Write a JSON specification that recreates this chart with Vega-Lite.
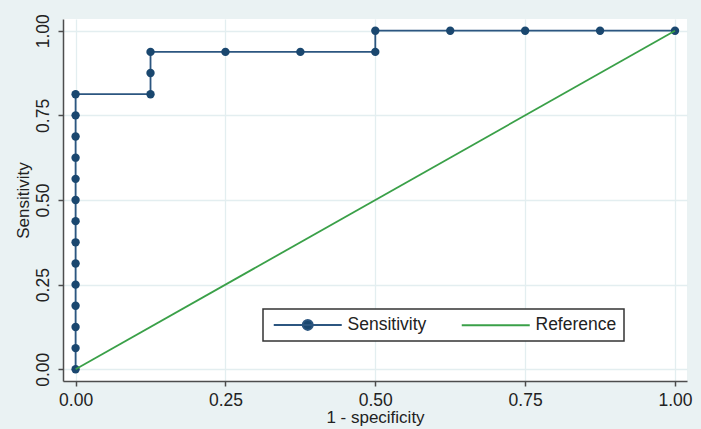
{
  "$schema": "https://vega.github.io/schema/vega-lite/v6.json",
  "width": 624,
  "height": 362,
  "autosize": {"type": "none"},
  "padding": {"left": 63, "top": 19, "right": 14, "bottom": 48},
  "background": "#EAF2F3",
  "config": {
    "font": "Liberation Sans",
    "view": {"fill": "white", "stroke": null},
    "axis": {
      "domainColor": "#4d4d4d", "domainWidth": 1.5,
      "tickColor": "#4d4d4d", "tickWidth": 1.5, "tickSize": 5,
      "gridColor": "#e3eef0", "gridWidth": 1.3,
      "labelFont": "Liberation Sans", "labelFontSize": 17.5, "labelColor": "#222222",
      "titleFont": "Liberation Sans", "titleFontSize": 17, "titleFontWeight": "normal", "titleColor": "#222222",
      "labelOverlap": false, "labelFlush": false
    }
  },
  "data": {
    "values": [
      {"series": "Sensitivity", "ord": 0, "spec1": 0, "sens": 0},
      {"series": "Sensitivity", "ord": 1, "spec1": 0, "sens": 0.0625},
      {"series": "Sensitivity", "ord": 2, "spec1": 0, "sens": 0.125},
      {"series": "Sensitivity", "ord": 3, "spec1": 0, "sens": 0.1875},
      {"series": "Sensitivity", "ord": 4, "spec1": 0, "sens": 0.25},
      {"series": "Sensitivity", "ord": 5, "spec1": 0, "sens": 0.3125},
      {"series": "Sensitivity", "ord": 6, "spec1": 0, "sens": 0.375},
      {"series": "Sensitivity", "ord": 7, "spec1": 0, "sens": 0.4375},
      {"series": "Sensitivity", "ord": 8, "spec1": 0, "sens": 0.5},
      {"series": "Sensitivity", "ord": 9, "spec1": 0, "sens": 0.5625},
      {"series": "Sensitivity", "ord": 10, "spec1": 0, "sens": 0.625},
      {"series": "Sensitivity", "ord": 11, "spec1": 0, "sens": 0.6875},
      {"series": "Sensitivity", "ord": 12, "spec1": 0, "sens": 0.75},
      {"series": "Sensitivity", "ord": 13, "spec1": 0, "sens": 0.8125},
      {"series": "Sensitivity", "ord": 14, "spec1": 0.125, "sens": 0.8125},
      {"series": "Sensitivity", "ord": 15, "spec1": 0.125, "sens": 0.875},
      {"series": "Sensitivity", "ord": 16, "spec1": 0.125, "sens": 0.9375},
      {"series": "Sensitivity", "ord": 17, "spec1": 0.25, "sens": 0.9375},
      {"series": "Sensitivity", "ord": 18, "spec1": 0.375, "sens": 0.9375},
      {"series": "Sensitivity", "ord": 19, "spec1": 0.5, "sens": 0.9375},
      {"series": "Sensitivity", "ord": 20, "spec1": 0.5, "sens": 1},
      {"series": "Sensitivity", "ord": 21, "spec1": 0.625, "sens": 1},
      {"series": "Sensitivity", "ord": 22, "spec1": 0.75, "sens": 1},
      {"series": "Sensitivity", "ord": 23, "spec1": 0.875, "sens": 1},
      {"series": "Sensitivity", "ord": 24, "spec1": 1, "sens": 1},
      {"series": "Reference", "ord": 0, "spec1": 0, "sens": 0},
      {"series": "Reference", "ord": 1, "spec1": 1, "sens": 1}
    ]
  },
  "encoding": {
    "x": {
      "field": "spec1", "type": "quantitative",
      "scale": {"domain": [-0.021, 1.02], "nice": false, "zero": false},
      "axis": {"values": [0, 0.25, 0.5, 0.75, 1], "format": ".2f", "title": "1 - specificity", "labelPadding": 5, "titlePadding": 1}
    },
    "y": {
      "field": "sens", "type": "quantitative",
      "scale": {"domain": [-0.0346, 1.0346], "nice": false, "zero": false},
      "axis": {"values": [0, 0.25, 0.5, 0.75, 1], "format": ".2f", "title": "Sensitivity", "labelAngle": -90, "labelPadding": 6, "titlePadding": 2}
    }
  },
  "layer": [
    {
      "transform": [{"filter": "datum.series === 'Sensitivity'"}],
      "mark": {"type": "line", "strokeWidth": 1.8},
      "encoding": {
        "order": {"field": "ord", "type": "quantitative"},
        "color": {
          "field": "series", "type": "nominal",
          "scale": {"domain": ["Sensitivity", "Reference"], "range": ["#2c5680", "#3aa048"]},
          "legend": {
            "title": null, "orient": "none", "legendX": 200, "legendY": 290,
            "direction": "horizontal", "padding": 7,
            "fillColor": "white", "strokeColor": "#333333",
            "symbolSize": 100, "symbolOffset": 29, "labelOffset": 31, "columnPadding": 30,
            "labelFontSize": 17.5, "labelColor": "#222222", "labelFont": "Liberation Sans",
            "encode": {
              "legend": {"update": {"strokeWidth": {"value": 1.5}}},
              "symbols": {"update": {
                "shape": {"signal": "datum.value === 'Sensitivity' ? 'M-6.8,0L6.8,0M1,0A1,1,0,1,0,-1,0A1,1,0,1,0,1,0Z' : 'M-6.8,0L6.8,0'"},
                "fill": {"signal": "datum.value === 'Sensitivity' ? '#1A476F' : 'transparent'"},
                "strokeWidth": {"value": 2},
                "opacity": {"value": 1}
              }}
            }
          }
        }
      }
    },
    {
      "transform": [{"filter": "datum.series === 'Sensitivity'"}],
      "mark": {"type": "point", "filled": true, "size": 70, "opacity": 1, "color": "#1A476F"}
    },
    {
      "transform": [{"filter": "datum.series === 'Reference'"}],
      "mark": {"type": "line", "strokeWidth": 1.8},
      "encoding": {
        "order": {"field": "ord", "type": "quantitative"},
        "color": {"field": "series", "type": "nominal"}
      }
    }
  ]
}
